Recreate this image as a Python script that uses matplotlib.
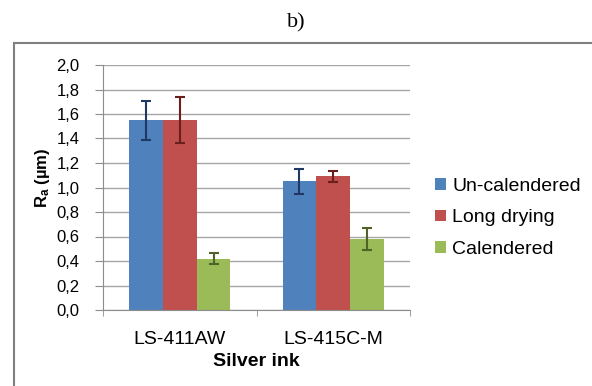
import numpy as np
import matplotlib
matplotlib.use("Agg")
import matplotlib.pyplot as plt
from matplotlib.patches import Rectangle
from matplotlib.ticker import FuncFormatter

plt.rcParams['font.family'] = ['Liberation Sans', 'DejaVu Sans']
plt.rcParams['mathtext.fontset'] = 'custom'
plt.rcParams['mathtext.rm'] = 'Liberation Sans:bold'
plt.rcParams['mathtext.it'] = 'Liberation Sans:bold'
plt.rcParams['mathtext.bf'] = 'Liberation Sans:bold'

# data
inks = ["LS-411AW", "LS-415C-M"]
series = ["Un-calendered", "Long drying", "Calendered"]
uncal = [1.55, 1.05]
uncal_err = [0.16, 0.10]
long_dry = [1.55, 1.09]
long_dry_err = [0.185, 0.045]
cal = [0.42, 0.58]
cal_err = [0.045, 0.09]

values = [uncal, long_dry, cal]
errors = [uncal_err, long_dry_err, cal_err]
colors = ["#4F81BD", "#C0504D", "#9BBB59"]
err_colors = ["#1F3864", "#6B1F1D", "#4F6228"]

fig = plt.figure(figsize=(5.92, 3.86), dpi=100)

# outer frame of the chart picture
fig.patches.append(Rectangle((14 / 592, -0.1), 1.2, 1 - 43 / 386 + 0.1,
                             transform=fig.transFigure, fill=False,
                             edgecolor="#7f7f7f", linewidth=1.5))
fig.text(0.5, 1 - 23 / 386, "b)", ha="center", va="center",
         fontsize=16, family="Liberation Serif")

ax = fig.add_axes([103 / 592, 1 - 310 / 386, 307 / 592, 245 / 386])
x = np.arange(len(inks))
w = 0.22
for i, (vals, errs) in enumerate(zip(values, errors)):
    ax.bar(x + (i - 1) * w, vals, w, color=colors[i], label=series[i], zorder=2)
    ax.errorbar(x + (i - 1) * w, vals, yerr=errs, fmt="none", ecolor=err_colors[i],
                elinewidth=1.5, capsize=3.5, capthick=1.5, zorder=3)

ax.set_xlim(-0.5, 1.5)
ax.set_ylim(0, 2.0)
ax.set_yticks(np.arange(0, 2.01, 0.2))
ax.yaxis.set_major_formatter(FuncFormatter(lambda v, p: f"{v:.1f}".replace(".", ",")))
ax.grid(axis="y", color="#a6a6a6", linewidth=1, zorder=0)
ax.set_axisbelow(True)
ax.set_xticks(x)
ax.set_xticklabels(inks, fontsize=14)
ax.set_xticks([-0.5, 0.5, 1.5], minor=True)
ax.tick_params(axis="x", which="major", length=0, pad=15)
ax.tick_params(axis="x", which="minor", length=4, color="#8c8c8c")
ax.tick_params(axis="y", labelsize=12, length=6, color="#8c8c8c", pad=11)
for s in ["top", "right"]:
    ax.spines[s].set_visible(False)
for s in ["left", "bottom"]:
    ax.spines[s].set_color("#8c8c8c")

ax.set_xlabel("Silver ink", fontsize=14, fontweight="bold", labelpad=4)
ax.set_ylabel(r"R$_\mathrm{a}$ (µm)", fontsize=12, fontweight="bold")
ax.yaxis.set_label_coords(-0.165, 0.54)

ax.legend(loc="center left", bbox_to_anchor=(418 / 592, 1 - 218 / 386),
          bbox_transform=fig.transFigure, frameon=False, fontsize=14,
          handlelength=0.55, handleheight=0.55, handletextpad=0.3, labelspacing=0.75)

fig.savefig("out.png", dpi=100)
